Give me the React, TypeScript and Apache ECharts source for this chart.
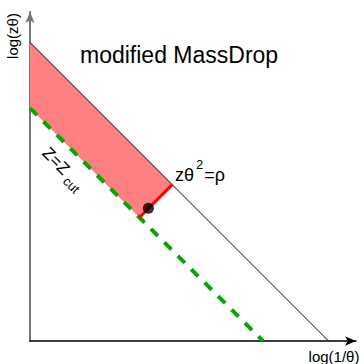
import React, { useEffect, useRef } from "react";
import * as echarts from "echarts";

// Lines in abstract (log(1/θ), log(zθ)) units
const rhoLine = [[0, 9.33], [9.33, 0]];
const zcutLine = [[0, 7.28], [7.28, 0]];
const dropSegment = [[3.42, 3.86], [4.445, 4.885]];
const fillRegion = [[0, 9.33], [4.445, 4.885], [3.42, 3.86], [0, 7.28]];
const workPoint = [[3.7, 4.15]];

const titleText = "modified MassDrop";
const xName = "log(1/θ)";
const yName = "log(zθ)";

const FONT = "'Liberation Sans', Arial, Helvetica, sans-serif";

export default function App() {
  const ref = useRef<HTMLDivElement>(null);
  useEffect(() => {
    if (!ref.current) return;
    const chart = echarts.init(ref.current, null, { renderer: "svg" });
    chart.setOption({
      animation: false,
      backgroundColor: "#ffffff",
      grid: { left: 30, bottom: 23, width: 326, height: 329 },
      xAxis: {
        type: "value",
        min: 0,
        max: 326 / 32,
        axisLine: {
          show: true,
          symbol: ["none", "arrow"],
          symbolSize: [7, 11],
          lineStyle: { color: "#000000", width: 1.5 },
        },
        axisTick: { show: false },
        axisLabel: { show: false },
        splitLine: { show: false },
      },
      yAxis: {
        type: "value",
        min: 0,
        max: 329 / 32,
        axisLine: {
          show: true,
          symbol: ["none", "arrow"],
          symbolSize: [7, 11],
          lineStyle: { color: "#777777", width: 2 },
        },
        axisTick: { show: false },
        axisLabel: { show: false },
        splitLine: { show: false },
      },
      series: [
        {
          type: "custom",
          z: 1,
          data: [0],
          renderItem: (params: any, api: any) => {
            const pts = fillRegion.map((p) => api.coord(p));
            return {
              type: "polygon",
              shape: { points: pts },
              style: { fill: "#ff8080", stroke: "none" },
            };
          },
        },
        {
          type: "line",
          z: 2,
          data: rhoLine,
          symbol: "none",
          lineStyle: { color: "#000000", width: 1 },
        },
        {
          type: "line",
          z: 3,
          data: zcutLine,
          symbol: "none",
          lineStyle: { color: "#00aa00", width: 4, type: [10, 9] },
        },
        {
          type: "line",
          z: 4,
          data: dropSegment,
          symbol: "none",
          lineStyle: { color: "#ff0000", width: 3 },
        },
        {
          type: "scatter",
          z: 5,
          data: workPoint,
          symbol: "circle",
          symbolSize: 11,
          itemStyle: { color: "#000000" },
        },
      ],
      graphic: [
        {
          type: "text",
          x: 80,
          y: 55,
          style: {
            text: titleText,
            font: `23px ${FONT}`,
            fill: "#000",
            textAlign: "left",
            textVerticalAlign: "middle",
          },
        },
        {
          type: "text",
          x: 12,
          y: 36,
          rotation: Math.PI / 2,
          style: {
            text: yName,
            font: `15px ${FONT}`,
            fill: "#000",
            textAlign: "center",
            textVerticalAlign: "middle",
          },
        },
        {
          type: "text",
          x: 334,
          y: 356,
          style: {
            text: xName,
            font: `15px ${FONT}`,
            fill: "#000",
            textAlign: "center",
            textVerticalAlign: "middle",
          },
        },
        {
          type: "text",
          x: 175,
          y: 171,
          style: {
            text: "{a|zθ}{s|2}{a|=ρ}",
            fill: "#000",
            textAlign: "left",
            textVerticalAlign: "middle",
            rich: {
              a: { fontFamily: FONT, fontSize: 18, lineHeight: 26, verticalAlign: "bottom" },
              s: { fontFamily: FONT, fontSize: 13, lineHeight: 26, verticalAlign: "top", padding: [0, 1, 0, 2] },
            },
          },
        },
        {
          type: "text",
          x: 62,
          y: 170,
          rotation: -Math.PI / 4,
          style: {
            text: "{a|Z=Z}{s|cut}",
            fill: "#000",
            textAlign: "center",
            textVerticalAlign: "middle",
            rich: {
              a: { fontFamily: FONT, fontSize: 17, lineHeight: 21, verticalAlign: "top" },
              s: { fontFamily: FONT, fontSize: 13, lineHeight: 21, verticalAlign: "bottom", padding: [0, 0, 0, 4] },
            },
          },
        },
      ],
    });
    return () => chart.dispose();
  }, []);
  return (
    <div
      ref={ref}
      style={{ position: "fixed", left: 0, top: 0, width: 361, height: 364 }}
    />
  );
}
